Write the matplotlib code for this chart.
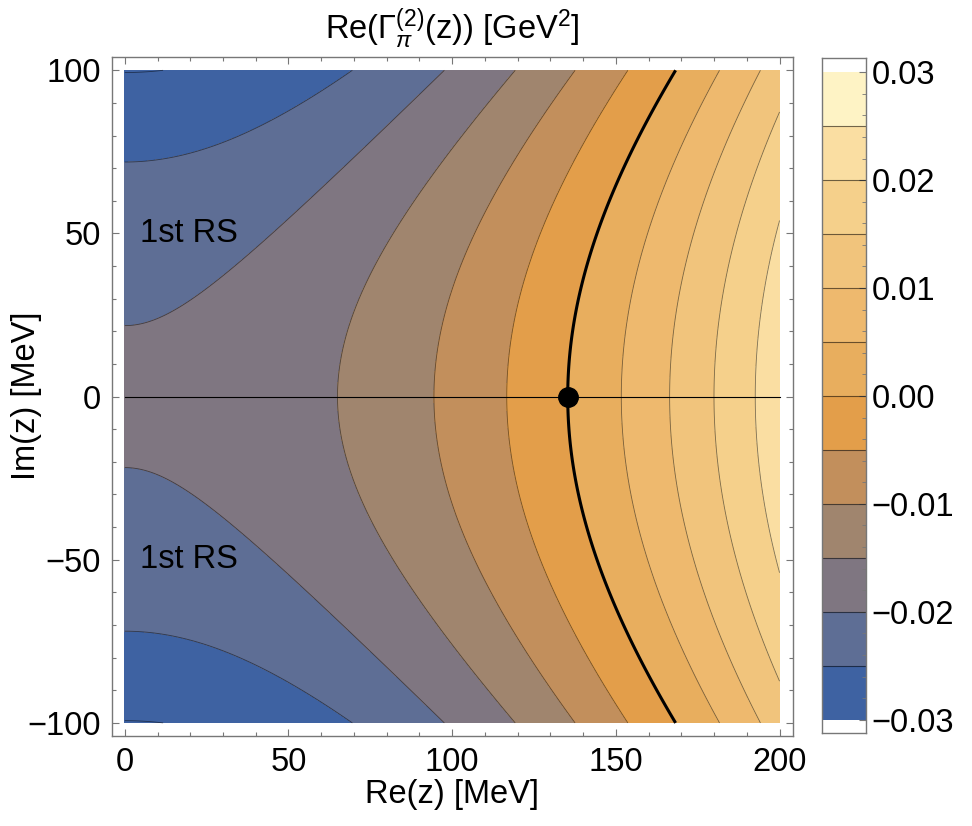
import numpy as np
import matplotlib
matplotlib.use("Agg")
import matplotlib.pyplot as plt
from matplotlib.ticker import MultipleLocator, FixedLocator, FixedFormatter

plt.rcParams["font.family"] = ["Liberation Sans", "DejaVu Sans"]
plt.rcParams["mathtext.fontset"] = "custom"
plt.rcParams["mathtext.rm"] = "Liberation Sans"
plt.rcParams["mathtext.it"] = "Liberation Sans:italic"
plt.rcParams["axes.unicode_minus"] = True
plt.rcParams["contour.negative_linestyle"] = "solid"

# contour levels [GeV^2] and band colours (Mathematica default gradient)
levels = [-0.030, -0.025, -0.020, -0.015, -0.010, -0.005, 0.000,
          0.005, 0.010, 0.015, 0.020, 0.025, 0.030]
band_colors = ["#3e62a2", "#5e6e95", "#7f7681", "#a0856e", "#c28f5c", "#e39e4a",
               "#e8ae5e", "#eeb96e", "#f1c47c", "#f5d08b", "#fadea2", "#fef3c5"]
cbar_ticks = [-0.03, -0.02, -0.01, 0.00, 0.01, 0.02, 0.03]
cbar_labels = ["\u22120.03", "\u22120.02", "\u22120.01", "0.00", "0.01", "0.02", "0.03"]

# Re Gamma(z) ~ slope * (z^2 - m_pi^2), z in MeV, result in GeV^2
m_pi = 135.3      # MeV, zero of the real part on the real axis
slope = 1.065
re_range = (0, 200)
im_range = (-100, 100)

x = np.linspace(re_range[0], re_range[1], 401)
y = np.linspace(im_range[0], im_range[1], 401)
X, Y = np.meshgrid(x, y)
Z = slope * ((X**2 - Y**2) - m_pi**2) / 1e6

FS = 23.5

fig = plt.figure(figsize=(9.72, 8.26), dpi=100)
ax = fig.add_axes([0.1149, 0.1090, 0.7006, 0.8217])

ax.contourf(X, Y, Z, levels=levels, colors=[band_colors[0]] + band_colors,
            extend="min")
ax.contour(X, Y, Z, levels=[l for l in levels if l != 0.0],
           colors="k", linewidths=0.6, alpha=0.5, linestyles="solid")
ax.contour(X, Y, Z, levels=[0.0], colors="k", linewidths=2.2)
ax.plot(re_range, [0, 0], color="k", lw=0.8)
ax.plot([m_pi], [0], "o", color="k", ms=14)

ax.text(4.5, 50, "1st RS", fontsize=FS, ha="left", va="center")
ax.text(4.5, -50, "1st RS", fontsize=FS, ha="left", va="center")

ax.set_xlim(-4, 204)
ax.set_ylim(-104, 104)
ax.xaxis.set_major_locator(MultipleLocator(50))
ax.xaxis.set_minor_locator(MultipleLocator(10))
ax.yaxis.set_major_locator(MultipleLocator(50))
ax.yaxis.set_minor_locator(MultipleLocator(10))
ax.tick_params(which="both", direction="in", top=True, right=True,
               color="#777777", labelsize=FS, pad=8)
ax.tick_params(which="major", length=5, width=0.8)
ax.tick_params(which="minor", length=3, width=0.8)
for sp in ax.spines.values():
    sp.set_color("#777777")
    sp.set_linewidth(1.0)

ax.set_xlabel("Re(z) [MeV]", fontsize=FS, labelpad=1)
fig.text(26 / 972, 1 - 396 / 826, "Im(z) [MeV]", fontsize=FS,
         rotation=90, ha="center", va="center")
ax.set_title(r"Re($\Gamma_{\pi}^{(2)}$(z)) [GeV$^2$]", fontsize=FS, pad=13)

# colour legend
cax = fig.add_axes([0.8454, 0.1126, 0.0453, 0.8170])
for lo, hi, c in zip(levels[:-1], levels[1:], band_colors):
    cax.bar(0, hi - lo, bottom=lo, width=1, align="edge", color=c, lw=0)
for lv in levels[1:-1]:
    cax.axhline(lv, color="k", lw=0.8, alpha=0.55)
cax.set_xlim(0, 1)
cax.set_ylim(-0.03123, 0.0313)
cax.set_xticks([])
cax.yaxis.tick_right()
cax.yaxis.set_major_locator(FixedLocator(cbar_ticks))
cax.yaxis.set_major_formatter(FixedFormatter(cbar_labels))
cax.yaxis.set_minor_locator(MultipleLocator(0.002))
cax.tick_params(axis="y", which="both", direction="in", color="#777777",
                labelsize=FS, pad=4)
cax.tick_params(axis="y", which="major", length=5)
cax.tick_params(axis="y", which="minor", length=3)
for sp in cax.spines.values():
    sp.set_color("#777777")
    sp.set_linewidth(1.0)

fig.savefig("out.png", dpi=100)
